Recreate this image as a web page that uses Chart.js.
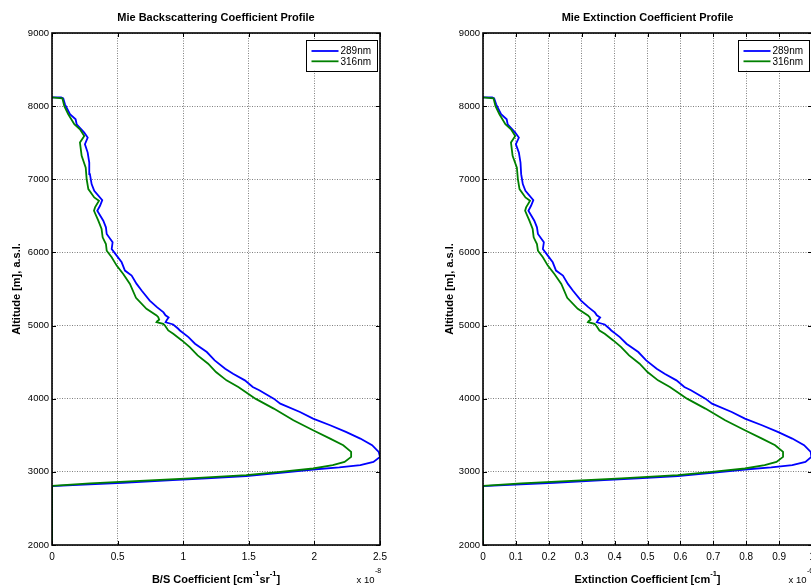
<!DOCTYPE html>
<html>
<head>
<meta charset="utf-8">
<script src="https://cdn.jsdelivr.net/npm/chart.js@4/dist/chart.umd.min.js"></script>
<style>
  html, body { margin: 0; padding: 0; background: #fff; width: 811px; height: 586px; overflow: hidden; }
  canvas { position: absolute; top: 0; }
  #c1 { left: 0; }
  #c2 { left: 405px; }
</style>
</head>
<body>
<canvas id="c1" width="405" height="586"></canvas>
<canvas id="c2" width="430" height="586"></canvas>
<script>
// ---------------- data ----------------
const seriesNames = ["289nm", "316nm"];
const yTicks = [2000, 3000, 4000, 5000, 6000, 7000, 8000, 9000];
const bsTicks = [0, 0.5, 1, 1.5, 2, 2.5];
const extTicks = [0, 0.1, 0.2, 0.3, 0.4, 0.5, 0.6, 0.7, 0.8, 0.9, 1];

// altitude [m] for each series
const alt289 = [2000, 2805, 2819, 2850, 2887, 2910, 2941, 2986, 3032, 3060, 3091, 3136, 3205, 3273, 3364, 3455, 3546, 3637, 3728, 3819, 3933, 4001, 4115, 4160, 4251, 4342, 4411, 4524, 4638, 4752, 4842, 4933, 4960, 5015, 5045, 5075, 5110, 5140, 5180, 5252, 5342, 5479, 5570, 5684, 5752, 5865, 5956, 6047, 6138, 6252, 6343, 6434, 6570, 6638, 6716, 6843, 6934, 7070, 7228, 7365, 7479, 7570, 7638, 7752, 7820, 7889, 8025, 8106, 8118, 8120];
const alt316 = [2000, 2809, 2842, 2877, 2910, 2955, 3000, 3046, 3091, 3136, 3205, 3273, 3364, 3455, 3568, 3705, 3865, 4001, 4069, 4160, 4251, 4365, 4479, 4592, 4706, 4797, 4888, 4933, 5001, 5024, 5047, 5060, 5080, 5115, 5138, 5230, 5380, 5570, 5706, 5820, 5933, 6024, 6115, 6206, 6320, 6434, 6570, 6616, 6706, 6752, 6866, 7002, 7160, 7320, 7502, 7593, 7684, 7752, 7889, 8001, 8106, 8120];

// backscattering coefficient [x 1e-8 cm^-1 sr^-1]
const bs289 = [0, 0, 0.16, 0.54, 0.92, 1.18, 1.48, 1.74, 1.99, 2.19, 2.35, 2.45, 2.50, 2.49, 2.44, 2.35, 2.24, 2.12, 1.99, 1.89, 1.74, 1.69, 1.58, 1.53, 1.47, 1.38, 1.32, 1.24, 1.18, 1.09, 1.04, 0.975, 0.96, 0.924, 0.866, 0.875, 0.889, 0.865, 0.85, 0.80, 0.745, 0.683, 0.645, 0.607, 0.556, 0.531, 0.493, 0.455, 0.462, 0.417, 0.411, 0.391, 0.345, 0.366, 0.383, 0.322, 0.302, 0.289, 0.284, 0.272, 0.251, 0.272, 0.246, 0.188, 0.180, 0.137, 0.099, 0.086, 0.07, 0];
const bs316 = [0, 0, 0.29, 0.67, 1.05, 1.48, 1.74, 1.99, 2.14, 2.23, 2.28, 2.28, 2.22, 2.12, 1.99, 1.84, 1.69, 1.55, 1.495, 1.42, 1.33, 1.25, 1.19, 1.11, 1.05, 0.99, 0.924, 0.886, 0.861, 0.848, 0.797, 0.802, 0.817, 0.81, 0.797, 0.72, 0.64, 0.594, 0.543, 0.493, 0.455, 0.417, 0.411, 0.386, 0.378, 0.353, 0.320, 0.328, 0.358, 0.322, 0.277, 0.264, 0.257, 0.226, 0.213, 0.246, 0.213, 0.170, 0.124, 0.094, 0.079, 0];

// extinction coefficient [x 1e-6 cm^-1]
const ext289 = [0, 0, 0.064, 0.216, 0.368, 0.472, 0.592, 0.696, 0.796, 0.876, 0.94, 0.98, 0.998, 0.996, 0.976, 0.94, 0.896, 0.848, 0.796, 0.756, 0.696, 0.676, 0.632, 0.612, 0.588, 0.552, 0.528, 0.496, 0.472, 0.436, 0.416, 0.39, 0.384, 0.37, 0.346, 0.35, 0.356, 0.346, 0.34, 0.32, 0.298, 0.273, 0.258, 0.243, 0.222, 0.212, 0.197, 0.182, 0.185, 0.167, 0.164, 0.156, 0.138, 0.146, 0.153, 0.129, 0.121, 0.116, 0.114, 0.109, 0.100, 0.109, 0.098, 0.075, 0.072, 0.055, 0.040, 0.034, 0.028, 0];
const ext316 = [0, 0, 0.116, 0.268, 0.42, 0.592, 0.696, 0.796, 0.856, 0.892, 0.912, 0.912, 0.888, 0.848, 0.796, 0.736, 0.676, 0.62, 0.598, 0.568, 0.532, 0.5, 0.476, 0.444, 0.42, 0.396, 0.37, 0.354, 0.344, 0.339, 0.319, 0.321, 0.327, 0.324, 0.319, 0.288, 0.256, 0.238, 0.217, 0.197, 0.182, 0.167, 0.164, 0.154, 0.151, 0.141, 0.128, 0.131, 0.143, 0.129, 0.111, 0.106, 0.103, 0.090, 0.085, 0.098, 0.085, 0.068, 0.050, 0.038, 0.032, 0];

// ---------------- drawing ----------------
const FONT = "'Liberation Sans', Arial, Helvetica, sans-serif";
const BLUE = '#0000ff', GREEN = '#008000';

function pts(xs, ys) { return xs.map((v, i) => ({ x: v, y: ys[i] })); }

function fmt(v) { return String(Number(v.toFixed(3))); }

const decor = {
  id: 'decor',
  afterDraw(chart, args, o) {
    const ctx = chart.ctx, a = chart.chartArea;
    const xs = chart.scales.x, ys = chart.scales.y;
    ctx.save();
    // frame
    ctx.strokeStyle = '#000'; ctx.lineWidth = 1.6; ctx.setLineDash([]);
    ctx.strokeRect(a.left, a.top, a.right - a.left, a.bottom - a.top);
    // inward tick marks
    ctx.lineWidth = 1;
    ctx.beginPath();
    xs.ticks.forEach(t => {
      const px = Math.round(xs.getPixelForValue(t.value)) + 0.5;
      ctx.moveTo(px, a.bottom); ctx.lineTo(px, a.bottom - 4);
      ctx.moveTo(px, a.top); ctx.lineTo(px, a.top + 4);
    });
    ys.ticks.forEach(t => {
      const py = Math.round(ys.getPixelForValue(t.value)) + 0.5;
      ctx.moveTo(a.left, py); ctx.lineTo(a.left + 4, py);
      ctx.moveTo(a.right, py); ctx.lineTo(a.right - 4, py);
    });
    ctx.stroke();

    // title
    const cx = (a.left + a.right) / 2;
    ctx.fillStyle = '#000';
    ctx.textBaseline = 'alphabetic';
    ctx.textAlign = 'center';
    ctx.font = 'bold 11px ' + FONT;
    ctx.fillText(o.title, cx, 21);

    // x axis title with superscripts
    const segs = o.xTitle;
    let total = 0;
    segs.forEach(s => {
      ctx.font = 'bold ' + (s.sup ? 7.5 : 11) + 'px ' + FONT;
      s.w = ctx.measureText(s.t).width; total += s.w;
    });
    let x = cx - total / 2;
    ctx.textAlign = 'left';
    segs.forEach(s => {
      ctx.font = 'bold ' + (s.sup ? 7.5 : 11) + 'px ' + FONT;
      ctx.fillText(s.t, x, s.sup ? 576 : 583);
      x += s.w;
    });

    // exponent label
    ctx.font = '9.5px ' + FONT;
    const ex = a.right - 23.5;
    ctx.fillText('x 10', ex, 583);
    const w10 = ctx.measureText('x 10').width;
    ctx.font = '7px ' + FONT;
    ctx.fillText(o.exp, ex + w10 + 0.5, 573);

    // y axis title
    ctx.save();
    ctx.translate(o.yTitleX, (a.top + a.bottom) / 2);
    ctx.rotate(-Math.PI / 2);
    ctx.textAlign = 'center';
    ctx.textBaseline = 'middle';
    ctx.font = 'bold 11px ' + FONT;
    ctx.fillText('Altitude [m], a.s.l.', 0, 0);
    ctx.restore();

    // legend box
    const bw = 71, bh = 31;
    const bx = a.right - 3 - bw, by = a.top + 6.5;
    ctx.fillStyle = '#fff';
    ctx.fillRect(bx, by, bw, bh);
    ctx.strokeStyle = '#000'; ctx.lineWidth = 1;
    ctx.strokeRect(Math.round(bx) + 0.5, Math.round(by) + 0.5, bw, bh);
    const cols = [BLUE, GREEN];
    seriesNames.forEach((n, i) => {
      const ly = by + 11.5 + i * 10.3;
      ctx.strokeStyle = cols[i]; ctx.lineWidth = 1.8;
      ctx.beginPath(); ctx.moveTo(bx + 5.5, ly); ctx.lineTo(bx + 32.5, ly); ctx.stroke();
      ctx.fillStyle = '#000';
      ctx.font = '10px ' + FONT;
      ctx.textAlign = 'left'; ctx.textBaseline = 'middle';
      ctx.fillText(n, bx + 34.5, ly + 0.5);
    });
    ctx.restore();
  }
};

function makeChart(id, d289, d316, xMax, xStep, yWidth, padRight, opts) {
  return new Chart(document.getElementById(id), {
    type: 'scatter',
    data: {
      datasets: [
        { label: seriesNames[0], data: pts(d289, alt289), showLine: true, borderColor: BLUE, backgroundColor: BLUE, borderWidth: 1.8, pointRadius: 0, tension: 0, order: 1 },
        { label: seriesNames[1], data: pts(d316, alt316), showLine: true, borderColor: GREEN, backgroundColor: GREEN, borderWidth: 1.8, pointRadius: 0, tension: 0, order: 0 }
      ]
    },
    options: {
      responsive: false,
      animation: false,
      devicePixelRatio: 1,
      layout: { padding: { top: 33, right: padRight, left: 0, bottom: 0 } },
      plugins: { legend: { display: false }, title: { display: false }, tooltip: { enabled: false }, decor: opts },
      scales: {
        x: {
          type: 'linear', min: 0, max: xMax,
          afterBuildTicks: s => { s.ticks = opts.xt.map(v => ({ value: v })); },
          ticks: { stepSize: xStep, color: '#000', padding: 6, font: { family: FONT, size: 10 }, callback: v => fmt(v), maxRotation: 0, autoSkip: false },
          grid: { color: 'rgba(0,0,0,0.5)', lineWidth: 1, drawTicks: false },
          border: { display: false, dash: [1, 1.5] },
          afterFit: s => { s.height = 41; }
        },
        y: {
          type: 'linear', min: 2000, max: 9000,
          afterBuildTicks: s => { s.ticks = yTicks.map(v => ({ value: v })); },
          ticks: { stepSize: 1000, color: '#000', padding: 3, font: { family: FONT, size: 9.5 }, callback: v => String(v), autoSkip: false },
          grid: { color: 'rgba(0,0,0,0.5)', lineWidth: 1, drawTicks: false },
          border: { display: false, dash: [1, 1.5] },
          afterFit: s => { s.width = yWidth; }
        }
      }
    },
    plugins: [decor]
  });
}

makeChart('c1', bs289, bs316, 2.5, 0.5, 52, 25, {
  title: 'Mie Backscattering Coefficient Profile',
  xTitle: [{ t: 'B/S Coefficient [cm' }, { t: '-1', sup: true }, { t: 'sr' }, { t: '-1', sup: true }, { t: ']' }],
  exp: '-8', yTitleX: 17, xt: bsTicks
});
makeChart('c2', ext289, ext316, 1, 0.1, 78, 23, {
  title: 'Mie Extinction Coefficient Profile',
  xTitle: [{ t: 'Extinction Coefficient [cm' }, { t: '-1', sup: true }, { t: ']' }],
  exp: '-6', yTitleX: 45, xt: extTicks
});
</script>
</body>
</html>
